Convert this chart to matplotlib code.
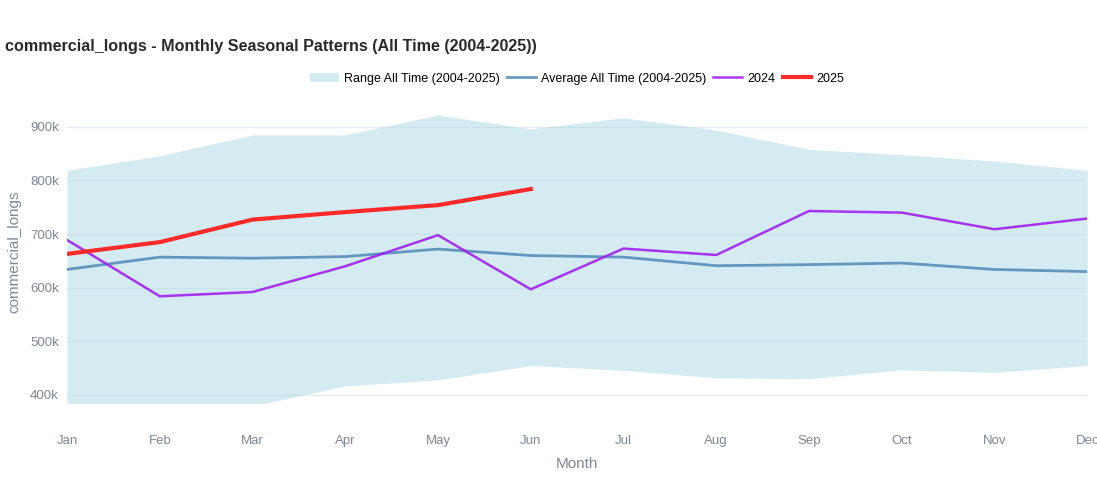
import matplotlib
matplotlib.use("Agg")
from matplotlib import pyplot as plt
from matplotlib.ticker import FuncFormatter

plt.rcParams['font.family'] = ['Liberation Sans', 'DejaVu Sans']

# Data (values in thousands)
months = ["Jan", "Feb", "Mar", "Apr", "May", "Jun", "Jul", "Aug", "Sep", "Oct", "Nov", "Dec"]
range_max = [819, 846, 885, 885, 922, 896, 917, 894, 858, 848, 836, 819]
range_min = [381, 382, 379, 417, 428, 455, 446, 432, 430, 447, 442, 455]
average_all = [634, 657, 655, 658, 672, 660, 657, 641, 643, 646, 634, 630]
values_2024 = [689, 584, 592, 640, 698, 597, 673, 661, 743, 740, 709, 729]
values_2025 = [663, 685, 727, 741, 754, 784]

x = list(range(len(months)))
to_units = lambda seq: [v * 1000 for v in seq]

fig = plt.figure(figsize=(10.97, 5.0), dpi=100)
ax = fig.add_axes([0.0611, 0.194, 0.930, 0.606])

ax.fill_between(x, to_units(range_min), to_units(range_max), color="#add8e6", alpha=0.5,
                linewidth=0, label="Range All Time (2004-2025)")
ax.plot(x, to_units(average_all), color="#4682b4", alpha=0.8, linewidth=2,
        label="Average All Time (2004-2025)")
ax.plot(x, to_units(values_2024), color="#a020f0", alpha=0.9, linewidth=1.8, label="2024")
ax.plot(x[:len(values_2025)], to_units(values_2025), color="#ff2a2a", linewidth=3, label="2025")

ax.set_xlim(0, 11)
ax.set_ylim(385000, 950000)
ax.set_xticks(x)
ax.set_xticklabels(months)
ax.set_yticks([400000, 500000, 600000, 700000, 800000, 900000])
ax.yaxis.set_major_formatter(FuncFormatter(lambda v, p: f"{int(v / 1000)}k"))

# plotly_white look
ax.set_axisbelow(True)
ax.grid(axis="y", color="#e6ebf2", linewidth=1)
for side in ["top", "right", "left", "bottom"]:
    ax.spines[side].set_visible(False)
ax.tick_params(axis="both", length=0, colors="#7f8694", labelsize=9.5)
ax.tick_params(axis="x", pad=23)
ax.tick_params(axis="y", pad=6)

ax.set_xlabel("Month", color="#7f8694", fontsize=11, labelpad=7)
ax.set_ylabel("commercial_longs", color="#7f8694", fontsize=11, labelpad=6)

fig.text(0.005, 0.908, "commercial_longs - Monthly Seasonal Patterns (All Time (2004-2025))",
         fontsize=11.6, fontweight="bold", color="#2a2a2a", va="center")

ax.legend(loc="center", bbox_to_anchor=(0.5, 1.07), ncol=4, frameon=False, fontsize=9,
          handlelength=2.3, columnspacing=0.6, handletextpad=0.4)

fig.savefig("out.png", dpi=100)
